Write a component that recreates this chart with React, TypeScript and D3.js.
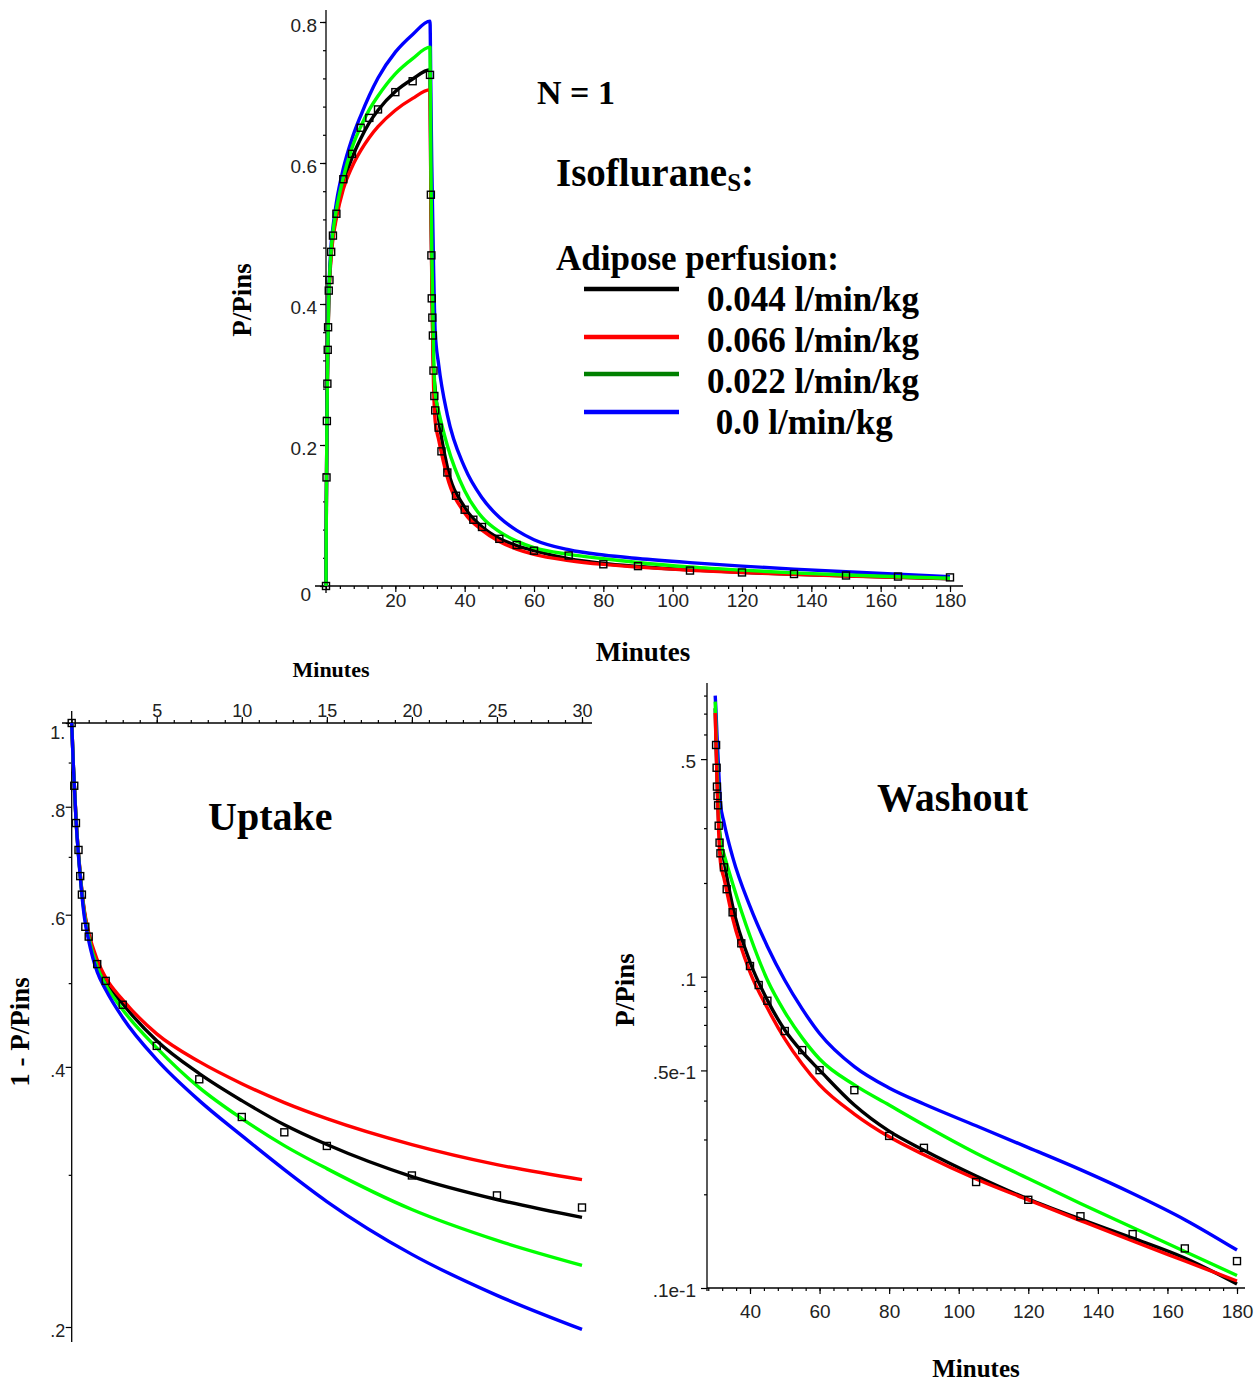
import React, { useRef, useEffect } from 'react';
import * as d3 from 'd3';

// uptake phase, 0-30 min, plotted as 1 - P/Pins
const upTimes = [0, 0.1, 0.25, 0.5, 0.75, 1, 1.5, 2, 3, 5, 7.5, 10, 12.5, 15, 20, 25, 30];
const upBlack = [1, 0.89, 0.777, 0.668, 0.603, 0.568, 0.527, 0.5032, 0.4732, 0.4288, 0.3929, 0.3656, 0.3428, 0.3252, 0.2986, 0.2809, 0.2678];
const upRed = [1, 0.89, 0.778, 0.67, 0.606, 0.572, 0.532, 0.5073, 0.4783, 0.4368, 0.4056, 0.3825, 0.3637, 0.3485, 0.3252, 0.3083, 0.2962];
const upGreen = [1, 0.89, 0.776, 0.667, 0.6, 0.565, 0.522, 0.4979, 0.4658, 0.4208, 0.3785, 0.3485, 0.3243, 0.305, 0.2735, 0.2519, 0.2357];
const upBlue = [1, 0.89, 0.775, 0.665, 0.595, 0.56, 0.515, 0.4913, 0.456, 0.4078, 0.3656, 0.333, 0.3042, 0.2794, 0.2427, 0.2176, 0.1987];

// measured points (squares), uptake
const upDataTimes = [0, 0.15, 0.25, 0.4, 0.5, 0.6, 0.8, 1, 1.5, 2, 3, 5, 7.5, 10, 12.5, 15, 20, 25, 30];
const upDataValues = [1, 0.846, 0.766, 0.713, 0.665, 0.633, 0.581, 0.566, 0.526, 0.503, 0.472, 0.423, 0.387, 0.35, 0.336, 0.324, 0.2995, 0.284, 0.275];

// washout phase, 30-180 min, P/Pins
const woTimes = [30, 30.25, 30.5, 31, 31.5, 32.5, 35, 40, 45, 50, 55, 60, 70, 80, 90, 105, 120, 135, 150, 165, 180];
const woBlack = [0.728, 0.555, 0.45, 0.31, 0.279, 0.237, 0.1687, 0.1115, 0.0841, 0.0674, 0.0573, 0.0501, 0.0387, 0.0319, 0.0277, 0.0229, 0.0193, 0.01665, 0.01447, 0.01248, 0.0103];
const woRed = [0.703, 0.55, 0.44, 0.29, 0.2336, 0.2075, 0.1543, 0.1035, 0.0793, 0.0631, 0.0524, 0.0449, 0.0362, 0.0306, 0.0268, 0.0224, 0.01918, 0.01647, 0.01416, 0.01221, 0.01053];
const woGreen = [0.765, 0.6, 0.48, 0.34, 0.2729, 0.2478, 0.1994, 0.1351, 0.0976, 0.077, 0.0636, 0.0544, 0.0449, 0.0387, 0.0334, 0.0271, 0.02248, 0.01868, 0.01564, 0.0131, 0.01097];
const woBlue = [0.8, 0.7, 0.6, 0.46, 0.36, 0.314, 0.2427, 0.1682, 0.1251, 0.0974, 0.0788, 0.0657, 0.0514, 0.0439, 0.039, 0.0332, 0.02825, 0.024, 0.02012, 0.01658, 0.01324];

// measured points (squares), washout
const woDataTimes = [30.25, 30.4, 30.5, 30.67, 30.83, 31, 31.25, 31.5, 32.5, 33.3, 35, 37.5, 40, 42.5, 45, 50, 55, 60, 70, 80, 90, 105, 120, 135, 150, 165, 180];
const woDataValues = [0.555, 0.469, 0.408, 0.3807, 0.3553, 0.3055, 0.2695, 0.2491, 0.2246, 0.191, 0.161, 0.128, 0.1082, 0.094, 0.0837, 0.0669, 0.0581, 0.0501, 0.0432, 0.0308, 0.0282, 0.0219, 0.0192, 0.017, 0.0149, 0.0134, 0.0122];

const legendLabels = ['0.044 l/min/kg', '0.066 l/min/kg', '0.022 l/min/kg', ' 0.0 l/min/kg'];

// ticks
const topXMajor = [20, 40, 60, 80, 100, 120, 140, 160, 180];
const topXLabels = ['20', '40', '60', '80', '100', '120', '140', '160', '180'];
const topYMajor = [0, 0.2, 0.4, 0.6, 0.8];
const topYLabels = ['0', '0.2', '0.4', '0.6', '0.8'];
const upXMajor = [5, 10, 15, 20, 25, 30];
const upXLabels = ['5', '10', '15', '20', '25', '30'];
const upYMajor = [1, 0.8, 0.6, 0.4, 0.2];
const upYLabels = ['1.', '.8', '.6', '.4', '.2'];
const upYMinor = [0.9, 0.7, 0.5, 0.3];
const woXMajor = [40, 60, 80, 100, 120, 140, 160, 180];
const woXLabels = ['40', '60', '80', '100', '120', '140', '160', '180'];
const woYMajor = [0.5, 0.1, 0.05, 0.01];
const woYLabels = ['.5', '.1', '.5e-1', '.1e-1'];
const woYMinor = [0.8, 0.7, 0.6, 0.3, 0.2, 0.09, 0.08, 0.07, 0.06, 0.04, 0.03, 0.02];

const RED = '#ff0000';
const GREEN = '#00ff00';
const BLUE = '#0000ff';
const BLACK = '#000000';

const App = () => {
  const svgRef = useRef(null);

  useEffect(() => {
    const svg = d3.select(svgRef.current);
    svg.selectAll('*').remove();

    const tickFont = '"Liberation Sans", Arial, sans-serif';
    const serif = '"Liberation Serif", "Times New Roman", serif';

    const addAxis = (axis, transform, size, dy?) => {
      const g = svg.append('g').attr('transform', transform).call(axis);
      g.select('.domain').remove();
      g.selectAll('line').attr('stroke', '#000').attr('stroke-width', 1.2);
      g.selectAll('text')
        .attr('font-family', tickFont)
        .attr('font-size', size)
        .attr('fill', '#222');
      if (dy) g.selectAll('text').attr('dy', dy);
      return g;
    };

    const axisLine = (xa, ya, xb, yb) =>
      svg.append('line').attr('x1', xa).attr('y1', ya).attr('x2', xb).attr('y2', yb)
        .attr('stroke', '#000').attr('stroke-width', 1.3);

    const drawCurve = (pts, line, color) =>
      svg.append('path').datum(pts).attr('fill', 'none').attr('stroke', color)
        .attr('stroke-width', 3.4).attr('stroke-linejoin', 'round').attr('d', line);

    const drawSquares = (pts, xs, ys) =>
      svg.append('g').selectAll('rect').data(pts).enter().append('rect')
        .attr('x', d => xs(d[0]) - 3.5).attr('y', d => ys(d[1]) - 3.5)
        .attr('width', 7).attr('height', 7)
        .attr('fill', 'none').attr('stroke', '#000').attr('stroke-width', 1.4);

    const boldText = (txt, x, y, size, rotate?) => {
      const t = svg.append('text').attr('font-family', serif).attr('font-weight', 'bold')
        .attr('font-size', size).attr('fill', '#000').text(txt);
      if (rotate) {
        t.attr('text-anchor', 'middle').attr('transform', `translate(${x},${y}) rotate(-90)`);
      } else {
        t.attr('x', x).attr('y', y);
      }
      return t;
    };

    // ================= top chart: whole time course =================
    const x1 = d3.scaleLinear().domain([0, 180]).range([326, 950]);
    const y1 = d3.scaleLinear().domain([0, 0.8]).range([586, 22]);

    addAxis(d3.axisBottom(x1).tickValues(d3.range(0, 181, 4)).tickSize(3).tickFormat(() => ''), 'translate(0,586)', 19);
    addAxis(d3.axisBottom(x1).tickValues(topXMajor).tickSize(6).tickPadding(1.5).tickFormat((d, i) => topXLabels[i]), 'translate(0,586)', 19);
    addAxis(d3.axisLeft(y1).tickValues(d3.range(0, 0.81, 0.04)).tickSize(3).tickFormat(() => ''), 'translate(326,0)', 19);
    const yl1 = addAxis(d3.axisLeft(y1).tickValues(topYMajor).tickSize(6).tickPadding(3).tickFormat((d, i) => topYLabels[i]), 'translate(326,0)', 19, '0.5em');
    yl1.selectAll('text').filter((d) => d === 0).attr('dy', '0.75em').attr('x', -15);
    axisLine(315, 586, 963, 586);
    axisLine(326, 10, 326, 593);

    const full = (up, wo) => [
      ...upTimes.map((t, i) => [t, 1 - up[i]]),
      ...woTimes.slice(1).map((t, i) => [t, wo[i + 1]]),
    ];
    const line1 = d3.line().x(d => x1(d[0])).y(d => y1(d[1])).curve(d3.curveMonotoneX);
    drawCurve(full(upBlack, woBlack), line1, BLACK);
    drawCurve(full(upRed, woRed), line1, RED);
    drawCurve(full(upBlue, woBlue), line1, BLUE);
    drawCurve(full(upGreen, woGreen), line1, GREEN);
    drawSquares([
      ...upDataTimes.map((t, i) => [t, 1 - upDataValues[i]]),
      ...woDataTimes.map((t, i) => [t, woDataValues[i]]),
    ], x1, y1);

    boldText('P/Pins', 251, 300, 27, true);
    boldText('Minutes', 643, 661, 27).attr('text-anchor', 'middle');

    // header + legend
    boldText('N = 1', 537, 104, 34);
    const iso = boldText('Isoflurane', 556, 186, 39);
    iso.append('tspan').attr('font-size', 25).attr('dy', 5).text('S');
    iso.append('tspan').attr('font-size', 39).attr('dy', -5).text(':');
    boldText('Adipose perfusion:', 556, 270, 35);

    const legendColors = [BLACK, RED, '#008000', BLUE];
    const legendLineY = [289, 337, 374, 412];
    legendLabels.forEach((lab, i) => {
      svg.append('line').attr('x1', 584).attr('x2', 679)
        .attr('y1', legendLineY[i]).attr('y2', legendLineY[i])
        .attr('stroke', legendColors[i]).attr('stroke-width', 4.5);
      boldText(lab, 707, 311 + i * 41, 35).style('white-space', 'pre');
    });

    // ================= bottom-left: uptake =================
    const x2 = d3.scaleLinear().domain([0, 30]).range([71.7, 582]);
    const y2 = d3.scaleLog().domain([0.2, 1]).range([1327, 723]);

    addAxis(d3.axisTop(x2).tickValues(d3.range(0, 31, 1)).tickSize(3).tickFormat(() => ''), 'translate(0,723)', 18);
    addAxis(d3.axisTop(x2).tickValues(upXMajor).tickSize(6).tickPadding(0).tickFormat((d, i) => upXLabels[i]), 'translate(0,723)', 18);
    addAxis(d3.axisLeft(y2).tickValues(upYMinor).tickSize(3).tickFormat(() => ''), 'translate(71.7,0)', 18);
    const yl2 = addAxis(d3.axisLeft(y2).tickValues(upYMajor).tickSize(6).tickPadding(0.5).tickFormat((d, i) => upYLabels[i]), 'translate(71.7,0)', 18, '0.55em');
    yl2.selectAll('text').filter((d) => d === 1).attr('dy', '0.85em');
    axisLine(62, 723, 592, 723);
    axisLine(71.7, 711, 71.7, 1342);

    const line2 = d3.line().x(d => x2(d[0])).y(d => y2(d[1])).curve(d3.curveMonotoneX);
    const upPts = vals => upTimes.map((t, i) => [t, vals[i]]);
    drawCurve(upPts(upBlack), line2, BLACK);
    drawCurve(upPts(upRed), line2, RED);
    drawCurve(upPts(upGreen), line2, GREEN);
    drawCurve(upPts(upBlue), line2, BLUE);
    drawSquares(upDataTimes.map((t, i) => [t, upDataValues[i]]), x2, y2);

    boldText('Minutes', 331, 677, 22).attr('text-anchor', 'middle');
    boldText('1 - P/Pins', 29, 1032, 27, true);
    boldText('Uptake', 208, 830, 40);

    // ================= bottom-right: washout =================
    const x3 = d3.scaleLinear().domain([40, 180]).range([750, 1237]);
    const y3 = d3.scaleLog().domain([0.01, 0.1]).range([1288, 976.7]);

    addAxis(d3.axisBottom(x3).tickValues(d3.range(28, 181, 4)).tickSize(3).tickFormat(() => ''), 'translate(0,1288)', 19);
    addAxis(d3.axisBottom(x3).tickValues(woXMajor).tickSize(6).tickPadding(10.5).tickFormat((d, i) => woXLabels[i]), 'translate(0,1288)', 19);
    addAxis(d3.axisLeft(y3).tickValues(woYMinor).tickSize(3).tickFormat(() => ''), 'translate(707,0)', 19);
    addAxis(d3.axisLeft(y3).tickValues(woYMajor).tickSize(6).tickPadding(5).tickFormat((d, i) => woYLabels[i]), 'translate(707,0)', 19, '0.45em');
    axisLine(707, 1288, 1245, 1288);
    axisLine(707, 683, 707, 1291);

    const line3 = d3.line().x(d => x3(d[0])).y(d => y3(d[1])).curve(d3.curveMonotoneX);
    const woPts = vals => woTimes.map((t, i) => [t, vals[i]]);
    drawCurve(woPts(woBlack), line3, BLACK);
    drawCurve(woPts(woBlue), line3, BLUE);
    drawCurve(woPts(woGreen), line3, GREEN);
    drawCurve(woPts(woRed), line3, RED);
    drawSquares(woDataTimes.map((t, i) => [t, woDataValues[i]]), x3, y3);

    boldText('P/Pins', 634, 990, 27, true);
    boldText('Minutes', 976, 1377, 25).attr('text-anchor', 'middle');
    boldText('Washout', 877, 811, 40);
  }, []);

  return (
    <div style={{ position: 'absolute', left: 0, top: 0 }}>
      <svg ref={svgRef} width={1257} height={1383} style={{ display: 'block', background: '#fff' }} />
    </div>
  );
};

export default App;
